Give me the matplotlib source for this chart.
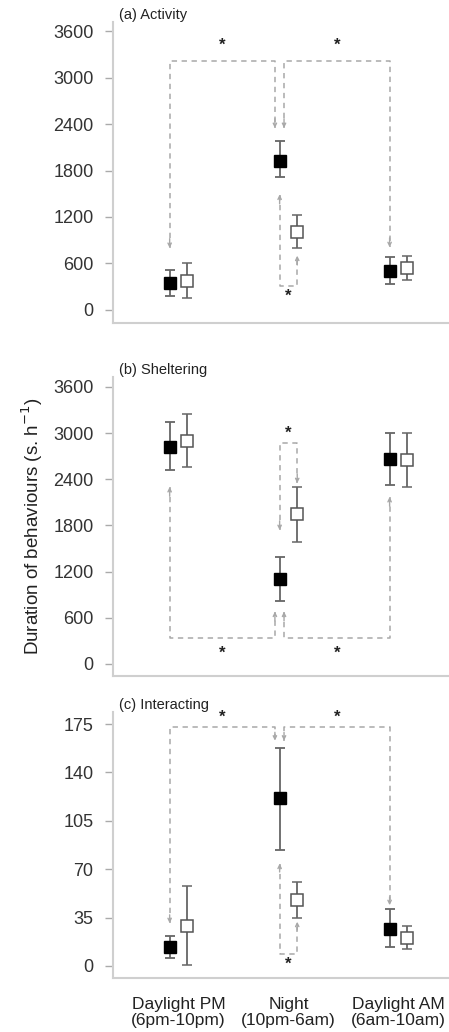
import matplotlib
matplotlib.use('Agg')
import matplotlib.pyplot as plt

plt.rcParams['font.family'] = ['Liberation Sans', 'DejaVu Sans']

# Periods (x axis)
periods = ['Daylight PM\n(6pm-10pm)', 'Night\n(10pm-6am)', 'Daylight AM\n(6am-10am)']

# (a) Activity: mean, lower and upper error limits
act_filled = [350, 1930, 500]
act_filled_lo = [180, 1720, 340]
act_filled_hi = [520, 2180, 680]
act_open = [370, 1000, 540]
act_open_lo = [150, 800, 380]
act_open_hi = [610, 1220, 700]

# (b) Sheltering
shel_filled = [2820, 1110, 2660]
shel_filled_lo = [2520, 820, 2330]
shel_filled_hi = [3150, 1390, 3000]
shel_open = [2900, 1950, 2650]
shel_open_lo = [2560, 1580, 2300]
shel_open_hi = [3250, 2300, 3000]

# (c) Interacting
int_filled = [13.7, 121.5, 27]
int_filled_lo = [6, 84, 14]
int_filled_hi = [22, 158, 41]
int_open = [29, 48, 20]
int_open_lo = [1, 35, 12]
int_open_hi = [58, 61, 29]

OFF = 0.08
DASH_COL = '#a8a8a8'
ERR_COL = '#666666'


def arrow_end(ax, x, y_end, y_from):
    ax.annotate('', xy=(x, y_end), xytext=(x, y_from),
                arrowprops=dict(arrowstyle='->', color=DASH_COL, lw=1,
                                shrinkA=0, shrinkB=0, mutation_scale=6))


def bracket(ax, x0, x1, y_bar, y0_end, y1_end, star_y, head):
    """Dashed bracket joining two means, with arrow heads and a star."""
    ax.plot([x0, x0, x1, x1], [y0_end, y_bar, y_bar, y1_end],
            color=DASH_COL, lw=1.1, ls=(0, (3.5, 3)), zorder=1)
    d0 = head if y_bar > y0_end else -head
    d1 = head if y_bar > y1_end else -head
    arrow_end(ax, x0, y0_end, y0_end + d0)
    arrow_end(ax, x1, y1_end, y1_end + d1)
    ax.text((x0 + x1) / 2, star_y, '*', ha='center', va='center',
            fontsize=12, fontweight='bold', color='#222222')


def draw_means(ax, f, flo, fhi, o, olo, ohi):
    xs = range(len(f))
    xf = [i - OFF for i in xs]
    xo = [i + OFF for i in xs]
    ax.errorbar(xf, f, yerr=[[m - l for m, l in zip(f, flo)], [h - m for m, h in zip(f, fhi)]],
                fmt='s', ms=8.5, mfc='black', mec='black', ecolor=ERR_COL,
                elinewidth=1.3, capsize=3.5, capthick=1.3, zorder=3)
    ax.errorbar(xo, o, yerr=[[m - l for m, l in zip(o, olo)], [h - m for m, h in zip(o, ohi)]],
                fmt='s', ms=8.5, mfc='white', mec='#555555', mew=1.1, ecolor=ERR_COL,
                elinewidth=1.3, capsize=3.5, capthick=1.3, zorder=3)


def style_axes(ax, ticks, ylim, title):
    ax.set_xlim(-0.595, 2.46)
    ax.set_ylim(*ylim)
    ax.set_yticks(ticks)
    for s in ['top', 'right']:
        ax.spines[s].set_visible(False)
    for s in ['left', 'bottom']:
        ax.spines[s].set_color('#cfcfcf')
        ax.spines[s].set_linewidth(1.5)
    ax.tick_params(axis='y', length=6, width=1, color='#aaaaaa', labelsize=13,
                   labelcolor='#333333', pad=8)
    ax.tick_params(axis='x', length=0)
    ax.text(0.018, 1.0, title, transform=ax.transAxes, fontsize=10.5,
            color='#222222', ha='left', va='bottom')


fig = plt.figure(figsize=(4.49, 10.32), dpi=100)
ax_a = fig.add_axes([0.2517, 0.687, 0.7483, 0.2917])
ax_b = fig.add_axes([0.2517, 0.345, 0.7483, 0.2897])
ax_c = fig.add_axes([0.2517, 0.0523, 0.7483, 0.2578])

# (a) Activity
draw_means(ax_a, act_filled, act_filled_lo, act_filled_hi, act_open, act_open_lo, act_open_hi)
bracket(ax_a, -OFF, 1 - OFF - 0.043, 3210, 800, 2350, 3420, 120)
bracket(ax_a, 1 - OFF + 0.04, 2 - OFF, 3210, 2350, 810, 3420, 120)
bracket(ax_a, 1 - OFF, 1 + OFF, 310, 1490, 700, 180, 120)
style_axes(ax_a, [0, 600, 1200, 1800, 2400, 3000, 3600], (-170, 3720), '(a) Activity')
ax_a.set_xticks([])

# (b) Sheltering
draw_means(ax_b, shel_filled, shel_filled_lo, shel_filled_hi, shel_open, shel_open_lo, shel_open_hi)
bracket(ax_b, -OFF, 1 - OFF - 0.043, 340, 2300, 680, 140, 120)
bracket(ax_b, 1 - OFF + 0.04, 2 - OFF, 340, 680, 2170, 140, 120)
bracket(ax_b, 1 - OFF, 1 + OFF, 2870, 1740, 2350, 3000, 120)
style_axes(ax_b, [0, 600, 1200, 1800, 2400, 3000, 3600], (-156, 3730), '(b) Sheltering')
ax_b.set_xticks([])
ax_b.set_ylabel('Duration of behaviours (s. h$^{-1}$)', fontsize=13.5,
                color='#222222', labelpad=6)

# (c) Interacting
draw_means(ax_c, int_filled, int_filled_lo, int_filled_hi, int_open, int_open_lo, int_open_hi)
bracket(ax_c, -OFF, 1 - OFF - 0.043, 173, 31, 163, 180, 6)
bracket(ax_c, 1 - OFF + 0.04, 2 - OFF, 173, 163, 44, 180, 6)
bracket(ax_c, 1 - OFF, 1 + OFF, 9, 74, 32, 1, 6)
style_axes(ax_c, [0, 35, 70, 105, 140, 175], (-8.7, 183.7), '(c) Interacting')
ax_c.set_xticks(range(len(periods)))
ax_c.set_xticklabels(periods, fontsize=12.5, color='#222222', linespacing=1.05)
ax_c.tick_params(axis='x', pad=14)

fig.savefig('out.png', dpi=100)
